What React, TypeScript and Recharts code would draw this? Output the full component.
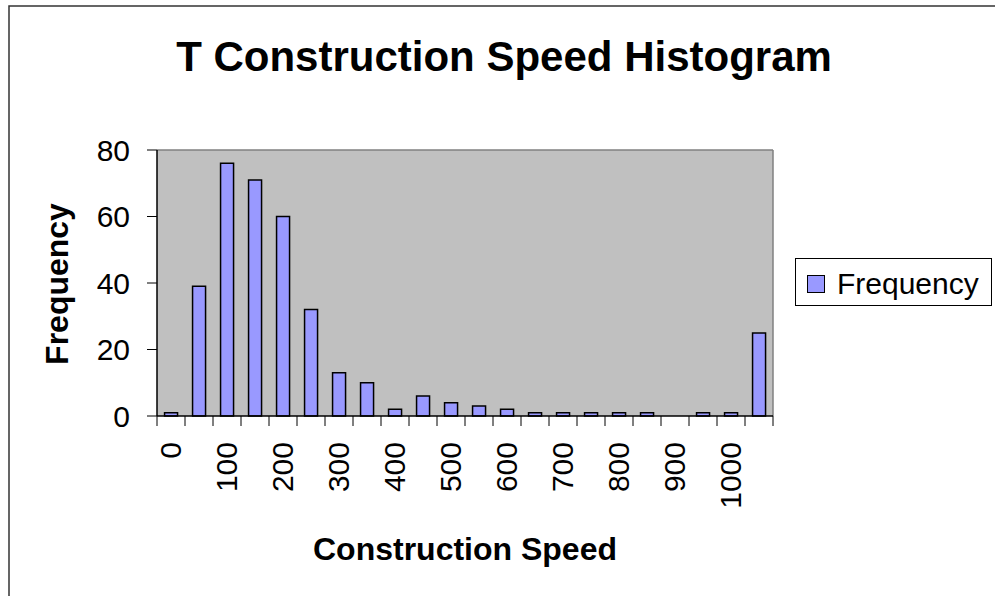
import React from 'react';
import { BarChart, Bar, XAxis, YAxis, CartesianGrid } from 'recharts';

// histogram bins (upper edges) and counts
const BINS = ['0', '50', '100', '150', '200', '250', '300', '350', '400', '450', '500',
  '550', '600', '650', '700', '750', '800', '850', '900', '950', '1000', 'More'];
const FREQUENCY = [1, 39, 76, 71, 60, 32, 13, 10, 2, 6, 4, 3, 2, 1, 1, 1, 1, 1, 0, 1, 1, 25];
const Y_TICKS = [0, 20, 40, 60, 80];

const TITLE = 'T Construction Speed Histogram';
const X_TITLE = 'Construction Speed';
const Y_TITLE = 'Frequency';
const SERIES_NAME = 'Frequency';

const data = BINS.map((bin, i) => ({ bin, frequency: FREQUENCY[i] }));

const W = 995;
const H = 596;
const PLOT_LEFT = 157;
const PLOT_TOP = 150;
const PLOT_RIGHT = 773;
const PLOT_BOTTOM = 416;
const Y_AXIS_W = 60;
const X_AXIS_H = 30;
const BAND = (PLOT_RIGHT - PLOT_LEFT) / BINS.length;

const FONT = '"Liberation Sans", Arial, sans-serif';
const BAR_FILL = '#9999FF';

// tick marks sit between the bins; labels only on every other bin, rotated
const XTick = ({ x, y, index, payload }: any) => {
  const half = BAND / 2;
  const tx = x + 10;
  const ty = y + 26;
  return (
    <g>
      <line x1={x - half} y1={y} x2={x - half} y2={y + 10} stroke="#000" strokeWidth={1} />
      {index === BINS.length - 1 && (
        <line x1={x + half} y1={y} x2={x + half} y2={y + 10} stroke="#000" strokeWidth={1} />
      )}
      {index % 2 === 0 && (
        <text
          x={tx}
          y={ty}
          transform={`rotate(-90, ${tx}, ${ty})`}
          textAnchor="end"
          fontSize={30}
          fontFamily={FONT}
          fill="#000"
        >
          {payload.value}
        </text>
      )}
    </g>
  );
};

export default function App() {
  return (
    <div style={{ position: 'absolute', left: 0, top: 0, width: W, height: H, background: '#fff' }}>
      <BarChart
        width={W}
        height={H}
        data={data}
        margin={{
          top: PLOT_TOP,
          right: W - PLOT_RIGHT,
          bottom: H - PLOT_BOTTOM - X_AXIS_H,
          left: PLOT_LEFT - Y_AXIS_W,
        }}
        barCategoryGap="27%"
      >
        <CartesianGrid
          fill="#C0C0C0"
          stroke="#808080"
          strokeWidth={1.5}
          horizontalPoints={[PLOT_TOP]}
          verticalPoints={[PLOT_RIGHT]}
        />
        <XAxis
          dataKey="bin"
          interval={0}
          height={X_AXIS_H}
          tickSize={0}
          tickMargin={0}
          tickLine={false}
          axisLine={{ stroke: '#000', strokeWidth: 1.5 }}
          tick={<XTick />}
        />
        <YAxis
          width={Y_AXIS_W}
          domain={[0, 80]}
          ticks={Y_TICKS}
          tickSize={10}
          tickMargin={17}
          axisLine={{ stroke: '#000', strokeWidth: 1.5 }}
          tickLine={{ stroke: '#000' }}
          tick={{ fontSize: 30, fill: '#000', fontFamily: FONT }}
        />
        <Bar
          dataKey="frequency"
          name={SERIES_NAME}
          fill={BAR_FILL}
          stroke="#000"
          strokeWidth={1.5}
          isAnimationActive={false}
        />
      </BarChart>

      <svg
        width={W}
        height={H}
        style={{ position: 'absolute', left: 0, top: 0, pointerEvents: 'none' }}
        fontFamily={FONT}
      >
        <rect x={9} y={6} width={W + 20} height={H + 20} fill="none" stroke="#333" strokeWidth={1.5} />
        <text x={504} y={71} textAnchor="middle" fontSize={42} fontWeight="bold" fill="#000">
          {TITLE}
        </text>
        <text x={465} y={560} textAnchor="middle" fontSize={32} fontWeight="bold" fill="#000">
          {X_TITLE}
        </text>
        <text
          x={68}
          y={284}
          transform="rotate(-90, 68, 284)"
          textAnchor="middle"
          fontSize={32}
          fontWeight="bold"
          fill="#000"
        >
          {Y_TITLE}
        </text>
        <rect x={795.5} y={258.5} width={196} height={47} fill="#fff" stroke="#000" strokeWidth={1} />
        <rect x={807.5} y={275.5} width={17} height={17} fill={BAR_FILL} stroke="#000" strokeWidth={1} />
        <text x={837} y={294} fontSize={30} fill="#000">
          {SERIES_NAME}
        </text>
      </svg>
    </div>
  );
}
